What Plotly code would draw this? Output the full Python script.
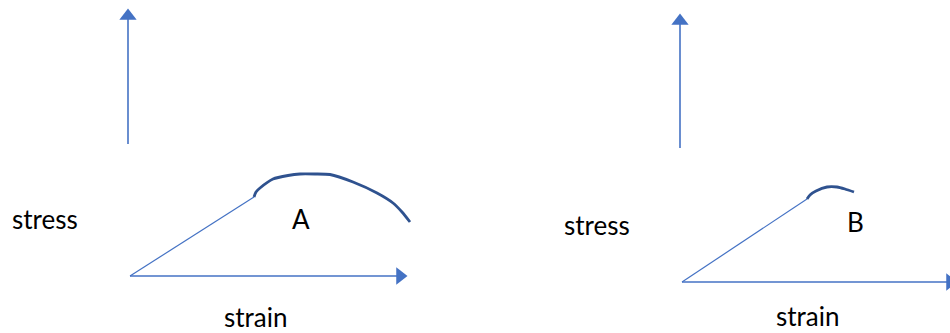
import plotly.graph_objects as go

# Panel A (ductile): strain / stress in drawing units, origin at the arrow corner
a_line_strain = [0, 124]
a_line_stress = [0, 79]
a_curve_strain = [124, 126, 130, 143, 158, 170, 185, 200, 223, 247, 263, 272, 280]
a_curve_stress = [79, 84, 88, 97, 100.5, 102, 102, 101.5, 94, 83, 73, 64, 54]
a_xaxis_strain = [0, 270]
a_yaxis_stress = [132, 260]

# Panel B (brittle)
b_line_strain = [0, 125]
b_line_stress = [0, 83]
b_curve_strain = [125, 128, 134, 145, 155, 163, 172]
b_curve_stress = [83, 87, 91, 95, 95, 93, 90]
b_xaxis_strain = [0, 268]
b_yaxis_stress = [134, 261]

labels = ["A", "B"]
BLUE = "#4472C4"
DARK = "#2F528F"

fig = go.Figure()


def add_panel(xa, ya, axis_x, axis_y, line_x, line_y, curve_x, curve_y):
    # axes drawn as arrows
    fig.add_trace(go.Scatter(x=axis_x, y=[0, 0], mode="lines", line=dict(color=BLUE, width=1.6),
                             xaxis=xa, yaxis=ya, hoverinfo="skip"))
    fig.add_trace(go.Scatter(x=[axis_x[-1]], y=[0], mode="markers",
                             marker=dict(symbol="triangle-right", size=15, color=BLUE),
                             xaxis=xa, yaxis=ya, hoverinfo="skip"))
    fig.add_trace(go.Scatter(x=[-2, -2], y=axis_y, mode="lines", line=dict(color=BLUE, width=1.6),
                             xaxis=xa, yaxis=ya, hoverinfo="skip"))
    fig.add_trace(go.Scatter(x=[-2], y=[axis_y[-1]], mode="markers",
                             marker=dict(symbol="triangle-up", size=15, color=BLUE),
                             xaxis=xa, yaxis=ya, hoverinfo="skip"))
    # elastic part and plastic part
    fig.add_trace(go.Scatter(x=line_x, y=line_y, mode="lines", line=dict(color=BLUE, width=1.2),
                             xaxis=xa, yaxis=ya))
    fig.add_trace(go.Scatter(x=curve_x, y=curve_y, mode="lines",
                             line=dict(color=DARK, width=2.8, shape="spline", smoothing=0.6),
                             xaxis=xa, yaxis=ya))


add_panel("x", "y", a_xaxis_strain, a_yaxis_stress, a_line_strain, a_line_stress,
          a_curve_strain, a_curve_stress)
add_panel("x2", "y2", b_xaxis_strain, b_yaxis_stress, b_line_strain, b_line_stress,
          b_curve_strain, b_curve_stress)

font = dict(family="Lato, Open Sans, sans-serif", size=26, color="black")
# (axis pair, label, stress-label pos, letter pos, strain-label pos)
placements = [
    ("x", "y", labels[0], (-85, 57), (171, 57), (126, -41)),
    ("x2", "y2", labels[1], (-85, 57), (173, 60), (126, -34)),
]
for xr, yr, lab, p_stress, p_lab, p_strain in placements:
    fig.add_annotation(x=p_stress[0], y=p_stress[1], xref=xr, yref=yr, text="stress",
                       showarrow=False, font=font)
    fig.add_annotation(x=p_lab[0], y=p_lab[1], xref=xr, yref=yr, text=lab,
                       showarrow=False, font=font)
    fig.add_annotation(x=p_strain[0], y=p_strain[1], xref=xr, yref=yr, text="strain",
                       showarrow=False, font=font)

hidden = dict(visible=False, showgrid=False, zeroline=False, fixedrange=True)
fig.update_layout(
    width=950, height=333,
    margin=dict(l=0, r=0, t=0, b=0),
    paper_bgcolor="white", plot_bgcolor="white",
    showlegend=False,
    xaxis=dict(range=[-130, 820], domain=[0, 1], **hidden),
    yaxis=dict(range=[-57, 276], domain=[0, 1], **hidden),
    xaxis2=dict(range=[-682, 268], domain=[0, 1], anchor="y2", overlaying="x", **hidden),
    yaxis2=dict(range=[-51, 282], domain=[0, 1], anchor="x2", overlaying="y", **hidden),
)

fig.write_html("out.html", config={"displayModeBar": False},
               post_script="document.body.style.margin='0';")
